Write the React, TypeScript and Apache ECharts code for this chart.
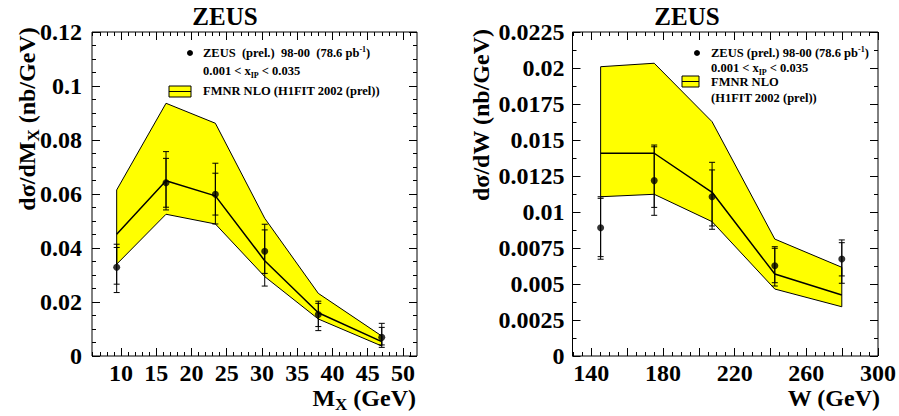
import React, { useEffect, useRef } from 'react';
import * as echarts from 'echarts';

// ---------- Left panel: dsigma/dMX ----------
const mxCenters = [9.4, 16.4, 23.4, 30.4, 38.0, 47.0];
const mxValues = [0.0329, 0.0642, 0.0599, 0.0388, 0.0154, 0.0069];
const mxStatLow = [0.0266, 0.0551, 0.0522, 0.0306, 0.0109, 0.0041];
const mxStatHigh = [0.0402, 0.0732, 0.0677, 0.0467, 0.0195, 0.0106];
const mxTotLow = [0.0235, 0.0541, 0.0489, 0.0259, 0.0094, 0.0032];
const mxTotHigh = [0.0414, 0.0757, 0.0714, 0.0488, 0.0203, 0.0121];
const mxNloCentral = [0.0451, 0.0649, 0.0593, 0.0353, 0.016, 0.0053];
const mxNloLow = [0.034, 0.0525, 0.0489, 0.0294, 0.0137, 0.0037];
const mxNloHigh = [0.0615, 0.0936, 0.0862, 0.051, 0.0232, 0.0074];
const mxMajorTicks = [10, 15, 20, 25, 30, 35, 40, 45, 50];
const mxLabelTicks = [10, 15, 20, 25, 30, 35, 40, 45, 50];

// ---------- Right panel: dsigma/dW ----------
const wCenters = [145.2, 175.1, 207.4, 242.4, 279.8];
const wValues = [0.00891, 0.01218, 0.01106, 0.00627, 0.00674];
const wStatLow = [0.0069, 0.01032, 0.00903, 0.00509, 0.00556];
const wStatHigh = [0.01095, 0.01453, 0.01292, 0.00748, 0.00787];
const wTotLow = [0.00672, 0.00977, 0.0088, 0.00486, 0.00505];
const wTotHigh = [0.01106, 0.01465, 0.01345, 0.00759, 0.00806];
const wNloCentral = [0.01408, 0.01408, 0.01137, 0.00569, 0.00424];
const wNloLow = [0.01106, 0.01123, 0.00933, 0.00465, 0.00342];
const wNloHigh = [0.02009, 0.02033, 0.01627, 0.00812, 0.00616];
const wMajorTicks = [140, 160, 180, 200, 220, 240, 260, 280, 300];
const wLabelTicks = [140, 180, 220, 260, 300];

function minorsOf(majors: number[], sub: number, lo: number, hi: number) {
  const step = (majors[1] - majors[0]) / sub;
  const out: number[] = [];
  for (let v = majors[0] - step * sub; v <= majors[majors.length - 1] + step * sub + 1e-9; v += step) {
    const r = Math.round(v * 1000) / 1000;
    if (r <= lo || r >= hi) continue;
    if (majors.some((m) => Math.abs(m - r) < 1e-6)) continue;
    out.push(r);
  }
  return out;
}

const FONT = 'Liberation Serif';
const labelStyle = { fontSize: 24, fontWeight: 'bold', fontFamily: FONT, color: '#000' };

function xAxes(grid: number, min: number, max: number, majors: number[], labels: number[], minors: number[], margin: number) {
  const base = { type: 'value', gridIndex: grid, min, max, splitLine: { show: false }, axisLine: { show: false, onZero: false } };
  return [
    { ...base, position: 'bottom', axisTick: { inside: true, length: 8, customValues: majors, lineStyle: { color: '#000' } }, axisLabel: { ...labelStyle, margin, customValues: labels } },
    { ...base, position: 'bottom', axisTick: { inside: true, length: 4, customValues: minors, lineStyle: { color: '#000' } }, axisLabel: { show: false } },
    { ...base, position: 'top', axisTick: { inside: true, length: 8, customValues: majors, lineStyle: { color: '#000' } }, axisLabel: { show: false } },
    { ...base, position: 'top', axisTick: { inside: true, length: 4, customValues: minors, lineStyle: { color: '#000' } }, axisLabel: { show: false } },
  ];
}

function yAxes(grid: number, max: number, interval: number, minorSplit: number, margin: number) {
  const base = {
    type: 'value', gridIndex: grid, min: 0, max, interval, splitLine: { show: false },
    axisLine: { show: false, onZero: false },
    axisTick: { inside: true, length: 8, lineStyle: { color: '#000' } },
    minorTick: { show: true, splitNumber: minorSplit, length: 4, lineStyle: { color: '#000' } },
  };
  return [
    { ...base, position: 'left', axisLabel: { ...labelStyle, margin } },
    { ...base, position: 'right', axisLabel: { show: false } },
  ];
}

function bandSeries(xi: number, yi: number, xs: number[], lo: number[], hi: number[]) {
  return {
    type: 'custom', xAxisIndex: xi, yAxisIndex: yi, z: 1, silent: true,
    data: xs.map((x, i) => [x, lo[i], hi[i]]),
    renderItem: (params: any, api: any) => {
      if (params.dataIndex !== 0) return null;
      const pts: number[][] = [];
      xs.forEach((x, i) => pts.push(api.coord([x, hi[i]])));
      for (let i = xs.length - 1; i >= 0; i--) pts.push(api.coord([xs[i], lo[i]]));
      return { type: 'polygon', shape: { points: pts }, style: { fill: '#ffff00', stroke: '#000', lineWidth: 1 } };
    },
  };
}

function errSeries(xi: number, yi: number, xs: number[], lo: number[], hi: number[]) {
  return {
    type: 'custom', xAxisIndex: xi, yAxisIndex: yi, z: 3, silent: true,
    data: xs.map((x, i) => [x, lo[i], hi[i]]),
    renderItem: (params: any, api: any) => {
      const x = api.value(0);
      const pl = api.coord([x, api.value(1)]);
      const ph = api.coord([x, api.value(2)]);
      const w = 3;
      const st = { stroke: '#000', lineWidth: 1 };
      return {
        type: 'group',
        children: [
          { type: 'line', shape: { x1: pl[0], y1: pl[1], x2: ph[0], y2: ph[1] }, style: st },
          { type: 'line', shape: { x1: pl[0] - w, y1: pl[1], x2: pl[0] + w, y2: pl[1] }, style: st },
          { type: 'line', shape: { x1: ph[0] - w, y1: ph[1], x2: ph[0] + w, y2: ph[1] }, style: st },
        ],
      };
    },
  };
}

function lineSeries(xi: number, yi: number, xs: number[], ys: number[]) {
  return {
    type: 'line', xAxisIndex: xi, yAxisIndex: yi, z: 2, silent: true, symbol: 'none',
    data: xs.map((x, i) => [x, ys[i]]),
    lineStyle: { color: '#000', width: 1.5 },
  };
}

function pointSeries(xi: number, yi: number, xs: number[], ys: number[]) {
  return {
    type: 'scatter', xAxisIndex: xi, yAxisIndex: yi, z: 4, silent: true,
    symbol: 'circle', symbolSize: 7, itemStyle: { color: '#000' },
    data: xs.map((x, i) => [x, ys[i]]),
  };
}

const legendRich = {
  n: { fontSize: 12.5, fontWeight: 'bold', fontFamily: FONT, fill: '#000', lineHeight: 16 },
  sup: { fontSize: 8, fontWeight: 'bold', fontFamily: FONT, fill: '#000', lineHeight: 8, verticalAlign: 'top' },
  sub: { fontSize: 8, fontWeight: 'bold', fontFamily: FONT, fill: '#000', lineHeight: 7, verticalAlign: 'bottom' },
};

function txt(x: number, y: number, text: string, size: number, align = 'left', rich: any = undefined, rotation = 0) {
  return {
    type: 'text', x, y, rotation, silent: true,
    style: { text, fontSize: size, fontWeight: 'bold', fontFamily: FONT, fill: '#000', align, verticalAlign: 'middle', lineHeight: size, rich },
  };
}

const titleRich = {
  n: { fontSize: 24, fontWeight: 'bold', fontFamily: FONT, fill: '#000', lineHeight: 30 },
  sub: { fontSize: 17, fontWeight: 'bold', fontFamily: FONT, fill: '#000', lineHeight: 12, verticalAlign: 'bottom' },
};

export default function App() {
  const ref = useRef<HTMLDivElement>(null);
  useEffect(() => {
    if (!ref.current) return;
    const chart = echarts.init(ref.current, null, { renderer: 'svg' });
    const mxMinors = minorsOf(mxMajorTicks, 5, 5.9, 52);
    const wMinors = minorsOf(wMajorTicks, 4, 129.5, 300);
    chart.setOption({
      animation: false,
      backgroundColor: '#fff',
      grid: [
        { left: 92, top: 32, width: 325, height: 324, show: true, borderColor: '#000', borderWidth: 1, backgroundColor: 'transparent' },
        { left: 572.5, top: 32, width: 306, height: 324, show: true, borderColor: '#000', borderWidth: 1, backgroundColor: 'transparent' },
      ],
      xAxis: [
        ...xAxes(0, 5.9, 52, mxMajorTicks, mxLabelTicks, mxMinors, 5),
        ...xAxes(1, 129.5, 300, wMajorTicks, wLabelTicks, wMinors, 5),
      ],
      yAxis: [
        ...yAxes(0, 0.12, 0.02, 4, 10),
        ...yAxes(1, 0.0225, 0.0025, 2, 8),
      ],
      series: [
        bandSeries(0, 0, mxCenters, mxNloLow, mxNloHigh),
        lineSeries(0, 0, mxCenters, mxNloCentral),
        errSeries(0, 0, mxCenters, mxTotLow, mxTotHigh),
        errSeries(0, 0, mxCenters, mxStatLow, mxStatHigh),
        pointSeries(0, 0, mxCenters, mxValues),
        bandSeries(4, 2, wCenters, wNloLow, wNloHigh),
        lineSeries(4, 2, wCenters, wNloCentral),
        errSeries(4, 2, wCenters, wTotLow, wTotHigh),
        errSeries(4, 2, wCenters, wStatLow, wStatHigh),
        pointSeries(4, 2, wCenters, wValues),
      ],
      graphic: [
        txt(225, 16, 'ZEUS', 25, 'center'),
        txt(687, 16, 'ZEUS', 25, 'center'),
        txt(27, 119, '{n|dσ/dM}{sub|X}{n| (nb/GeV)}', 24, 'center', titleRich, Math.PI / 2),
        txt(481, 115, 'dσ/dW (nb/GeV)', 24, 'center', undefined, Math.PI / 2),
        txt(416, 398, '{n|M}{sub|X}{n| (GeV)}', 24, 'right', titleRich),
        txt(880, 398, 'W (GeV)', 24, 'right'),
        // left legend
        { type: 'circle', shape: { cx: 190, cy: 53, r: 3 }, style: { fill: '#000' }, silent: true },
        txt(203, 53, '{n|ZEUS  (prel.)  98-00  (78.6 pb}{sup|-1}{n|)}', 12.5, 'left', legendRich),
        txt(203, 71, '{n|0.001 < x}{sub|IP}{n| < 0.035}', 12.5, 'left', legendRich),
        { type: 'rect', shape: { x: 169, y: 86, width: 22, height: 11 }, style: { fill: '#ffff00', stroke: '#000', lineWidth: 1 }, silent: true },
        { type: 'line', shape: { x1: 169, y1: 91.5, x2: 191, y2: 91.5 }, style: { stroke: '#000', lineWidth: 1 }, silent: true },
        txt(203, 91, 'FMNR NLO (H1FIT 2002 (prel))', 12.5, 'left'),
        // right legend
        { type: 'circle', shape: { cx: 697, cy: 53, r: 3 }, style: { fill: '#000' }, silent: true },
        txt(711, 53, '{n|ZEUS (prel.) 98-00 (78.6 pb}{sup|-1}{n|)}', 12.5, 'left', legendRich),
        txt(711, 68, '{n|0.001 < x}{sub|IP}{n| < 0.035}', 12.5, 'left', legendRich),
        { type: 'rect', shape: { x: 682, y: 76, width: 17, height: 11 }, style: { fill: '#ffff00', stroke: '#000', lineWidth: 1 }, silent: true },
        { type: 'line', shape: { x1: 682, y1: 81.5, x2: 699, y2: 81.5 }, style: { stroke: '#000', lineWidth: 1 }, silent: true },
        txt(711, 82, 'FMNR NLO', 12.5, 'left'),
        txt(711, 98, '(H1FIT 2002 (prel))', 12.5, 'left'),
      ],
    });
    return () => chart.dispose();
  }, []);
  return <div ref={ref} style={{ position: 'absolute', left: 0, top: 0, width: 899, height: 416 }} />;
}
